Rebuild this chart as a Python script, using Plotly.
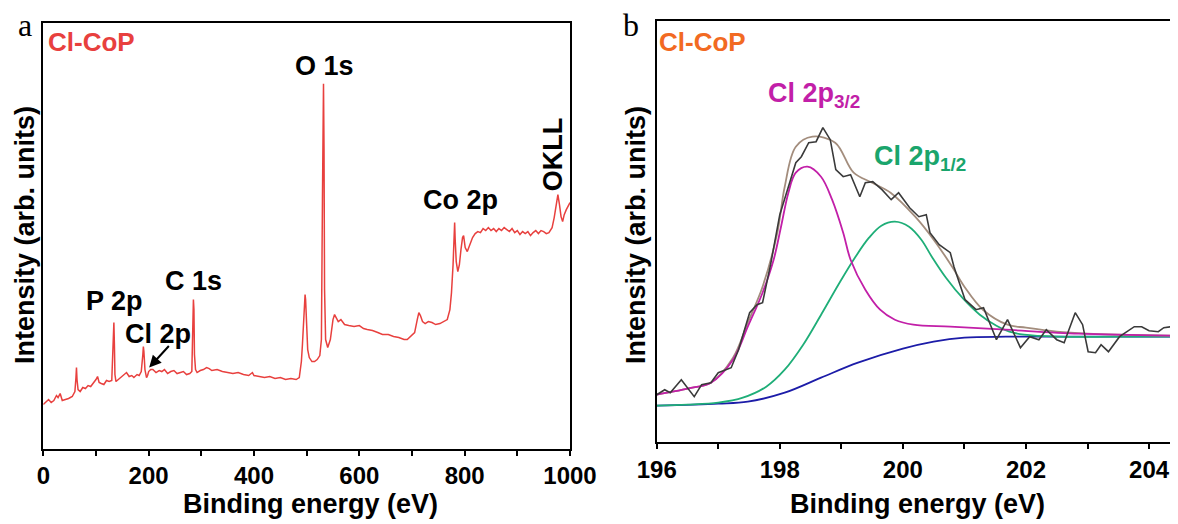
import plotly.graph_objects as go

# ---------------- Panel a: survey spectrum ----------------
survey_be = [0, 5, 10, 15, 20, 25, 28, 32, 36, 42, 48, 55, 60, 62, 63, 64, 66, 70, 75, 80, 85, 90, 95,
             100, 103, 106, 110, 115, 120, 125, 130, 133, 134, 135, 136, 138, 142, 148, 152, 158, 163,
             168, 172, 178, 182, 186, 189, 190, 191, 193, 196, 198, 200, 204, 208, 214, 220, 225, 230,
             236, 242, 248, 254, 260, 266, 272, 278, 282, 284, 285, 286, 287, 289, 292, 298, 304, 310,
             315, 320, 330, 340, 350, 360, 370, 380, 390, 397, 400, 410, 420, 430, 440, 450, 460, 470,
             480, 486, 488, 490, 492, 494, 496, 497, 498, 500, 502, 505, 510, 515, 520, 525, 528, 530,
             531, 532, 533, 534, 536, 540, 545, 550, 553, 556, 560, 565, 572, 580, 590, 600, 608, 615,
             625, 635, 644, 655, 665, 675, 685, 691, 700, 705, 710, 713, 716, 720, 725, 731, 738, 745,
             753, 760, 767, 772, 775, 778, 780, 781, 782, 784, 787, 790, 793, 796, 798, 801, 805, 810,
             815, 820, 825, 830, 835, 840, 845, 850, 855, 860, 865, 870, 875, 880, 885, 890, 895, 900,
             905, 910, 915, 920, 925, 930, 935, 940, 945, 950, 955, 960, 966, 970, 974, 977, 980, 983,
             986, 989, 993, 996, 1000]
survey_int = [44, 47, 49, 46, 48, 53, 51, 55, 48, 49, 50, 52, 57, 71, 81, 69, 59, 57, 61, 60, 63, 62, 65,
              69, 72, 66, 65, 64, 68, 67, 68, 109, 126, 104, 74, 67, 69, 71, 73, 76, 72,
              73, 71, 74, 73, 77, 94, 102, 97, 79, 71, 73, 77, 79, 79, 76, 78, 77, 79,
              75, 77, 78, 75, 76, 77, 74, 75, 77, 119, 149, 139, 94, 79, 76, 78, 79, 81,
              80, 78, 79, 77, 76, 75, 76, 74, 73, 76, 73, 72, 71, 72, 70, 71, 69, 70,
              69, 71, 77, 87, 104, 129, 149, 154, 149, 119, 99, 91, 87, 87, 89, 93, 109, 249,
              329, 365, 299, 159, 109, 101, 109, 129, 134, 131, 127, 129, 124, 123, 122, 123, 120, 119,
              118, 116, 114, 114, 112, 111, 109, 109, 113, 116, 129, 136, 133, 127, 125, 127, 126, 124,
              125, 127, 129, 139, 156, 184, 214, 226, 209, 187, 177, 184, 199, 211, 213, 201, 197, 204,
              211, 215, 217, 216, 220, 218, 221, 218, 220, 217, 220, 218, 221, 219, 217, 220, 216, 218,
              214, 217, 215, 217, 213, 216, 218, 215, 218, 217, 215, 216, 221, 231, 244, 254, 244, 232,
              227, 234, 239, 242, 246]

survey_ticks = [0, 200, 400, 600, 800, 1000]
survey_labels = ["O 1s", "Co 2p", "OKLL", "P 2p", "Cl 2p", "C 1s"]
survey_label_x = [533, 793, 967, 136, 218, 285]
survey_label_y = [383, 249, 294, 148, 115, 168]

# ---------------- Panel b: Cl 2p high-resolution ----------------
raw_be = [196.00, 196.13, 196.22, 196.40, 196.61, 196.73, 196.88, 197.00, 197.21, 197.33, 197.51, 197.63,
          197.72, 197.85, 198.00, 198.14, 198.26, 198.35, 198.47, 198.59, 198.70, 198.82, 198.91, 199.03,
          199.15, 199.30, 199.39, 199.51, 199.66, 199.81, 199.93, 200.11, 200.26, 200.38, 200.44, 200.59,
          200.77, 200.83, 201.01, 201.19, 201.31, 201.52, 201.70, 201.91, 202.06, 202.21, 202.33, 202.50,
          202.62, 202.80, 202.92, 203.01, 203.13, 203.22, 203.34, 203.52, 203.76, 203.88, 204.00, 204.15,
          204.24, 204.36, 204.47]
raw_int = [47, 52, 49, 62, 45, 57, 59, 69, 74, 92, 129, 137,
           139, 177, 227, 255, 279, 285, 299, 300, 314, 302, 272, 265,
           267, 245, 259, 260, 252, 242, 249, 234, 225, 227, 209, 197,
           189, 175, 142, 132, 134, 102, 122, 94, 105, 102, 112, 102,
           99, 129, 117, 90, 89, 97, 90, 105, 115, 115, 111, 110,
           114, 115, 110]

bg_be = [196.0, 197.0, 197.48, 198.08, 198.67, 199.27, 200.0, 200.5, 201.0, 201.67, 202.5, 204.47]
bg_int = [36, 38, 40, 49, 64, 79, 93, 100, 104, 105, 105, 105]

p12_be = [196.0, 196.5, 197.0, 197.4, 197.78, 198.08, 198.38, 198.68, 198.98, 199.22, 199.45, 199.65,
          199.87, 200.1, 200.3, 200.47, 200.7, 200.98, 201.25, 201.52, 201.73, 201.97, 202.5, 203.5, 204.47]
p12_int = [36, 37, 39, 44, 55, 72, 97, 128, 160, 184, 204, 216,
           220, 215, 202, 185, 164, 143, 127, 116, 110, 107, 105, 105, 105]

p32_be = [196.0, 196.58, 196.88, 197.24, 197.48, 197.72, 197.9, 198.02, 198.14, 198.26, 198.45, 198.67,
          198.85, 199.03, 199.15, 199.39, 199.63, 199.87, 200.17, 200.77, 201.67, 202.86, 204.47]
p32_int = [47, 54, 59, 82, 115, 149, 182, 215, 249, 269, 275, 265,
           242, 209, 182, 152, 132, 122, 117, 115, 112, 108, 106]

env_be = [196.0, 196.58, 196.88, 197.24, 197.48, 197.72, 197.96, 198.08, 198.26, 198.53, 198.9, 199.2,
          199.5, 199.8, 200.2, 200.5, 200.8, 201.0, 201.3, 201.7, 202.0, 202.5, 203.0, 204.47]
env_int = [47, 54, 59, 84, 119, 155, 209, 255, 295, 305, 299, 269,
           259, 249, 225, 202, 175, 155, 132, 117, 114, 110, 108, 106]

hr_ticks = [196, 198, 200, 202, 204]

RED = "#e8403e"
MAG = "#c21fa8"
GRN = "#1fae78"
GRN_TXT = "#1aa56c"
BLU = "#1c1ca8"
BRN = "#a38d7d"
BLK = "#3a3a3a"
ORG = "#f26a22"

# the page body has an 8px margin: the figure fills the rest of the 1178x524 window
OFF = 8
W, H = 1178 - OFF, 524 - OFF
FONT = "Liberation Sans, Arial, sans-serif"

def px(x):
    return (x - OFF) / W

def py(y):
    return 1 - (y - OFF) / H

fig = go.Figure()

fig.add_trace(go.Scatter(x=survey_be, y=survey_int, mode="lines",
                         line=dict(color=RED, width=1.5), xaxis="x", yaxis="y", showlegend=False))

fig.add_trace(go.Scatter(x=bg_be, y=bg_int, mode="lines", line=dict(color=BLU, width=1.8, shape="spline"),
                         xaxis="x2", yaxis="y2", showlegend=False))
fig.add_trace(go.Scatter(x=p12_be, y=p12_int, mode="lines", line=dict(color=GRN, width=1.8, shape="spline"),
                         xaxis="x2", yaxis="y2", showlegend=False))
fig.add_trace(go.Scatter(x=env_be, y=env_int, mode="lines", line=dict(color=BRN, width=1.8, shape="spline"),
                         xaxis="x2", yaxis="y2", showlegend=False))
fig.add_trace(go.Scatter(x=p32_be, y=p32_int, mode="lines", line=dict(color=MAG, width=1.8, shape="spline"),
                         xaxis="x2", yaxis="y2", showlegend=False))
fig.add_trace(go.Scatter(x=raw_be, y=raw_int, mode="lines", line=dict(color=BLK, width=1.6),
                         xaxis="x2", yaxis="y2", showlegend=False))

axis_common = dict(showline=True, linewidth=2, linecolor="black", mirror=True, ticks="outside",
                   ticklen=5, tickwidth=2, tickcolor="black", showgrid=False, zeroline=False,
                   tickfont=dict(family=FONT, size=24, color="black", weight="bold"),
                   ticklabelstandoff=0, automargin=False)

fig.update_layout(
    width=W, height=H, margin=dict(l=0, r=0, t=0, b=0, pad=0, autoexpand=False),
    paper_bgcolor="white", plot_bgcolor="white",
    xaxis=dict(domain=[px(43.3), px(570)], range=[0, 1000], tickvals=survey_ticks,
               minor=dict(dtick=100, ticks="outside", ticklen=5, tickwidth=2, tickcolor="black"),
               anchor="y", **axis_common),
    yaxis=dict(domain=[py(448.5), py(22.7)], range=[0, 426], showticklabels=False, ticks="",
               showline=True, linewidth=2, linecolor="black", mirror=True, showgrid=False,
               zeroline=False, anchor="x", automargin=False),
    xaxis2=dict(domain=[px(656.7), 1.0], range=[196, 204.47], tickvals=hr_ticks,
                minor=dict(dtick=1, ticks="outside", ticklen=5, tickwidth=2, tickcolor="black"),
                anchor="y2", **axis_common),
    yaxis2=dict(domain=[py(441.7), py(20.5)], range=[0, 421.2], showticklabels=False, ticks="",
                showline=True, linewidth=2, linecolor="black", mirror=False, showgrid=False,
                zeroline=False, anchor="x2", automargin=False),
)

ann = []
def bold(size, color="black"):
    return dict(family=FONT, size=size, color=color, weight="bold")

# panel letters
ann.append(dict(text="a", x=px(25), y=py(25), xref="paper", yref="paper", showarrow=False,
                xanchor="center", yanchor="middle",
                font=dict(family="Liberation Serif, Times New Roman, serif", size=32, color="black")))
ann.append(dict(text="b", x=px(631), y=py(25), xref="paper", yref="paper", showarrow=False,
                xanchor="center", yanchor="middle",
                font=dict(family="Liberation Serif, Times New Roman, serif", size=32, color="black")))
# sample names
ann.append(dict(text="Cl-CoP", x=px(46), y=py(42), xref="paper", yref="paper", showarrow=False,
                xanchor="left", yanchor="middle", font=bold(26, RED)))
ann.append(dict(text="Cl-CoP", x=px(657), y=py(42), xref="paper", yref="paper", showarrow=False,
                xanchor="left", yanchor="middle", font=bold(26, ORG)))
# axis titles
for cx in (310, 917):
    ann.append(dict(text="Binding energy (eV)", x=px(cx), y=py(504), xref="paper", yref="paper",
                    showarrow=False, xanchor="center", yanchor="middle", font=bold(27)))
for cx in (25, 636):
    ann.append(dict(text="Intensity (arb. units)", x=px(cx), y=py(235), xref="paper", yref="paper",
                    showarrow=False, xanchor="center", yanchor="middle", textangle=-90, font=bold(27)))
# survey peak labels
for t, x, y in zip(survey_labels, survey_label_x, survey_label_y):
    ann.append(dict(text=t, x=x, y=y, xref="x", yref="y", showarrow=False, xanchor="center",
                    yanchor="middle", textangle=-90 if t == "OKLL" else 0, font=bold(27)))
# arrow to Cl 2p
ann.append(dict(text="", x=201, y=81, ax=241, ay=104, xref="x", yref="y", axref="x", ayref="y",
                showarrow=True, arrowhead=2, arrowsize=1.2, arrowwidth=2, arrowcolor="black"))
# HR labels
ann.append(dict(text="Cl 2p<sub>3/2</sub>", x=198.56, y=347, xref="x2", yref="y2", showarrow=False,
                xanchor="center", yanchor="middle", font=bold(27, MAG)))
ann.append(dict(text="Cl 2p<sub>1/2</sub>", x=200.28, y=284, xref="x2", yref="y2", showarrow=False,
                xanchor="center", yanchor="middle", font=bold(27, GRN_TXT)))

fig.update_layout(annotations=ann)
fig.write_html("out.html")
